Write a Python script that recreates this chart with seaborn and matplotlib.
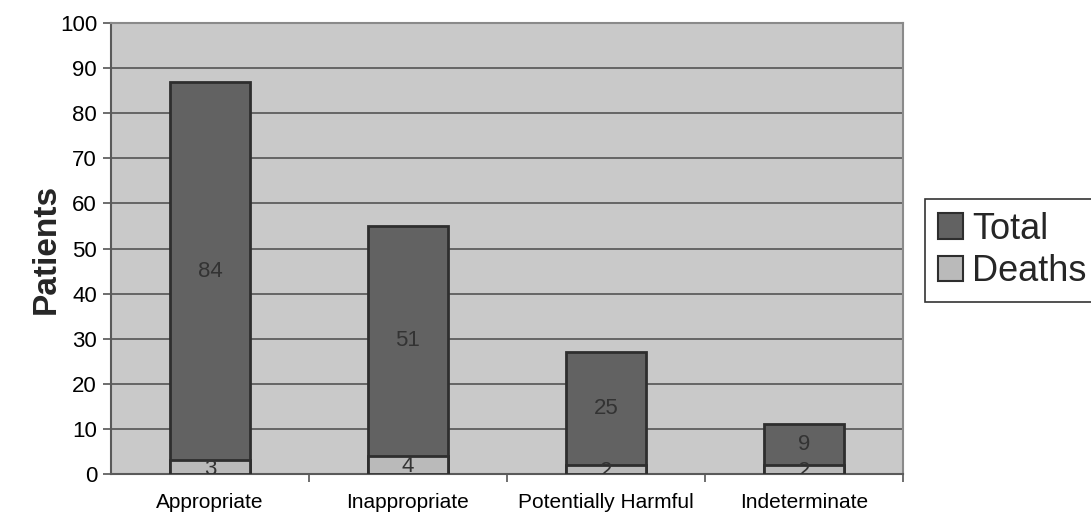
import matplotlib
matplotlib.use("Agg")
import matplotlib.pyplot as plt
import seaborn as sns
import pandas as pd
from matplotlib.patches import Patch

categories = ["Appropriate", "Inappropriate", "Potentially Harmful", "Indeterminate"]
deaths = [3, 4, 2, 2]
survivors = [84, 51, 25, 9]
totals = [d + s for d, s in zip(deaths, survivors)]

df = pd.DataFrame({"category": categories, "deaths": deaths,
                   "survivors": survivors, "total": totals})

sns.set_theme(style="white")
plt.rcParams["font.family"] = ["Liberation Sans", "DejaVu Sans"]

fig = plt.figure(figsize=(10.91, 5.16), dpi=100)
ax = fig.add_axes([0.1017, 0.0814, 0.7260, 0.8740])
ax.set_facecolor("#c9c9c9")

dark = "#626262"
light = "#bababa"
edge = "#2e2e2e"

sns.barplot(data=df, x="category", y="total", color=dark, saturation=1,
            width=0.404, edgecolor=edge, linewidth=2, ax=ax, zorder=3)
sns.barplot(data=df, x="category", y="deaths", color=light, saturation=1,
            width=0.404, edgecolor=edge, linewidth=2, ax=ax, zorder=4)

# segment labels
for i, (d, s) in enumerate(zip(deaths, survivors)):
    ax.text(i, d + s / 2, str(s), ha="center", va="center",
            fontsize=16, color="#333333", zorder=5)
    ax.text(i, d / 2 - 0.4, str(d), ha="center", va="center",
            fontsize=16, color="#333333", zorder=5, clip_on=True)

ax.set_xlim(-0.5, 3.5)
ax.set_ylim(0, 100)
ax.set_yticks(range(0, 101, 10))
ax.yaxis.grid(True, color="#4a4a4a", linewidth=1.1, zorder=1)
ax.set_axisbelow(True)

ax.set_xticks([0.5, 1.5, 2.5, 3.5], minor=True)
ax.set_xticks(range(4))
ax.set_xticklabels(categories, fontsize=15)
ax.tick_params(axis="x", which="major", length=0, pad=14)
ax.tick_params(axis="x", which="minor", length=6, width=1.2, color="#555555",
               direction="out", bottom=True)
ax.tick_params(axis="y", length=6, width=1.2, color="#555555",
               direction="out", left=True, labelsize=16, pad=4)
for lbl in ax.get_yticklabels() + ax.get_xticklabels():
    lbl.set_color("black")

for side in ["left", "bottom"]:
    ax.spines[side].set_color("#5a5a5a")
    ax.spines[side].set_linewidth(1.5)
for side in ["top", "right"]:
    ax.spines[side].set_color("#8a8a8a")
    ax.spines[side].set_linewidth(1.5)

ax.set_xlabel("")
ax.set_ylabel("Patients", fontsize=24, fontweight="bold")
ax.yaxis.set_label_coords(-0.062, 0.5)

handles = [Patch(facecolor=dark, edgecolor=edge, linewidth=1.5, label="Total"),
           Patch(facecolor=light, edgecolor=edge, linewidth=1.5, label="Deaths")]
leg = fig.legend(handles=handles, loc="center left",
                 bbox_to_anchor=(0.848, 0.515), fontsize=26, frameon=True,
                 fancybox=False, edgecolor="black", handlelength=0.7,
                 handleheight=0.7, handletextpad=0.25, borderpad=0.35,
                 labelspacing=0.2, borderaxespad=0)
leg.get_frame().set_linewidth(1.2)

fig.savefig("out.png", dpi=100)
